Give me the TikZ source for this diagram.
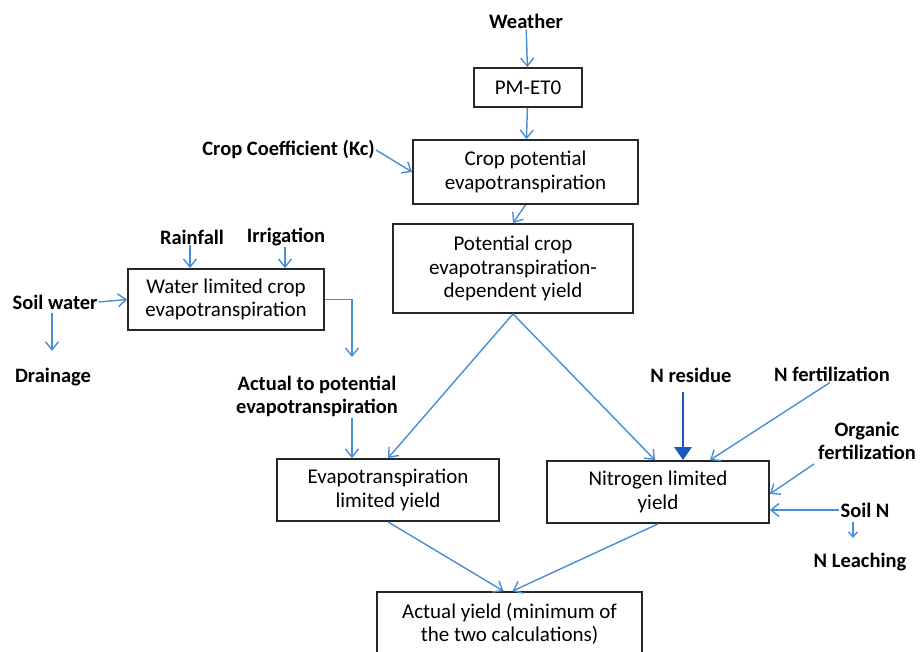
\documentclass[tikz,border=0pt]{standalone}
\usepackage{fontspec}
\setmainfont{Carlito}
\usepackage{tikz}
\usetikzlibrary{arrows.meta,positioning,calc}
\definecolor{flowblue}{RGB}{72,142,214}
\definecolor{darkblue}{RGB}{28,88,190}

\begin{document}
\begin{tikzpicture}[x=1pt, y=-1pt]
    \tikzstyle{block} = [rectangle, draw=black!85, line width=1.8pt, align=center, inner sep=0pt, font=\fontsize{21}{23.5}\selectfont]
    \tikzstyle{tag} = [align=center, inner sep=1pt, font=\bfseries\fontsize{20.5}{23}\selectfont]
    \tikzstyle{line} = [draw=flowblue, line width=1.4pt, -{Straight Barb[length=8pt,width=13pt]}]
    \tikzstyle{bigline} = [draw=darkblue, line width=2.8pt, -{Triangle[length=13pt,width=17pt]}]

    \useasboundingbox (0,0) rectangle (920,652);

    \node [tag] (weather) at (526,21) {Weather};
    \node [block, minimum width=108, minimum height=39] (pmet) at (528,87.5) {PM-ET0};
    \node [block, minimum width=225, minimum height=64] (cropet) at (525.5,172) {Crop potential\\evapotranspiration};
    \node [tag, anchor=east] (kc) at (376,150) {Crop Coefficient (Kc)};
    \node [block, minimum width=240, minimum height=89] (potyield) at (513,268.5) {Potential crop\\evapotranspiration-\\dependent yield};

    \node [tag] (rainfall) at (192,237) {Rainfall};
    \node [tag] (irrigation) at (286,237) {Irrigation};
    \node [block, minimum width=196, minimum height=61] (water) at (226,299.5) {Water limited crop\\evapotranspiration};
    \node [tag] (soilwater) at (55,302) {Soil water};
    \node [tag] (drainage) at (53,377) {Drainage};
    \node [tag] (atp) at (317,396) {Actual to potential\\evapotranspiration};

    \node [block, minimum width=222, minimum height=62] (etyield) at (388,490) {Evapotranspiration\\limited yield};
    \node [block, minimum width=222, minimum height=62] (nyield) at (658,492) {Nitrogen limited\\yield};
    \node [block, minimum width=265, minimum height=64] (actual) at (509.5,624) {Actual yield (minimum of\\the two calculations)};

    \node [tag] (nresidue) at (691,375) {N residue};
    \node [tag] (nfert) at (832,374) {N fertilization};
    \node [tag] (organic) at (867,441) {Organic\\fertilization};
    \node [tag] (soiln) at (865,510) {Soil N};
    \node [tag] (nleach) at (860,562) {N Leaching};

    \coordinate (wt) at (352,357);
    \coordinate (nr) at (683,392);

    \path [line] (weather) -- (pmet);
    \path [line] (pmet) -- (cropet);
    \path [line] (kc.east) -- (cropet.west);
    \path [line] (cropet.south) -- (potyield.north);
    \path [line] (rainfall.south -| 190,0) -- (water.north -| 190,0);
    \path [line] (irrigation.south -| 285,0) -- (water.north -| 285,0);
    \path [line] (soilwater.east) -- (water.west);
    \path [line, shorten <=3pt, shorten >=16pt] ([xshift=-3]soilwater.south) -- ([xshift=-1]drainage.north);
    \path [line] (water.east) -| (wt);
    \path [line] (atp.south -| wt) -- (etyield.north -| wt);
    \path [line] (potyield.south) -- (etyield.north);
    \path [line] (potyield.south) -- ([xshift=-3]nyield.north);
    \path [bigline] (nr) -- (nr |- nyield.north);
    \path [line] ([xshift=-2]nfert.south) -- ([xshift=52]nyield.north);
    \path [line] ([xshift=-3,yshift=-3]organic.south west) -- ([yshift=-2]nyield.east);
    \path [line] (soiln.west) -- (soiln.west -| nyield.east);
    \path [line, shorten <=4pt, shorten >=14pt, -{Straight Barb[length=5pt,width=9pt]}] ([xshift=-12]soiln.south) -- ([xshift=-7]nleach.north);
    \path [line] (etyield.south) -- ([xshift=-6]actual.north);
    \path [line] (nyield.south) -- ([xshift=3]actual.north);
\end{tikzpicture}
\end{document}
